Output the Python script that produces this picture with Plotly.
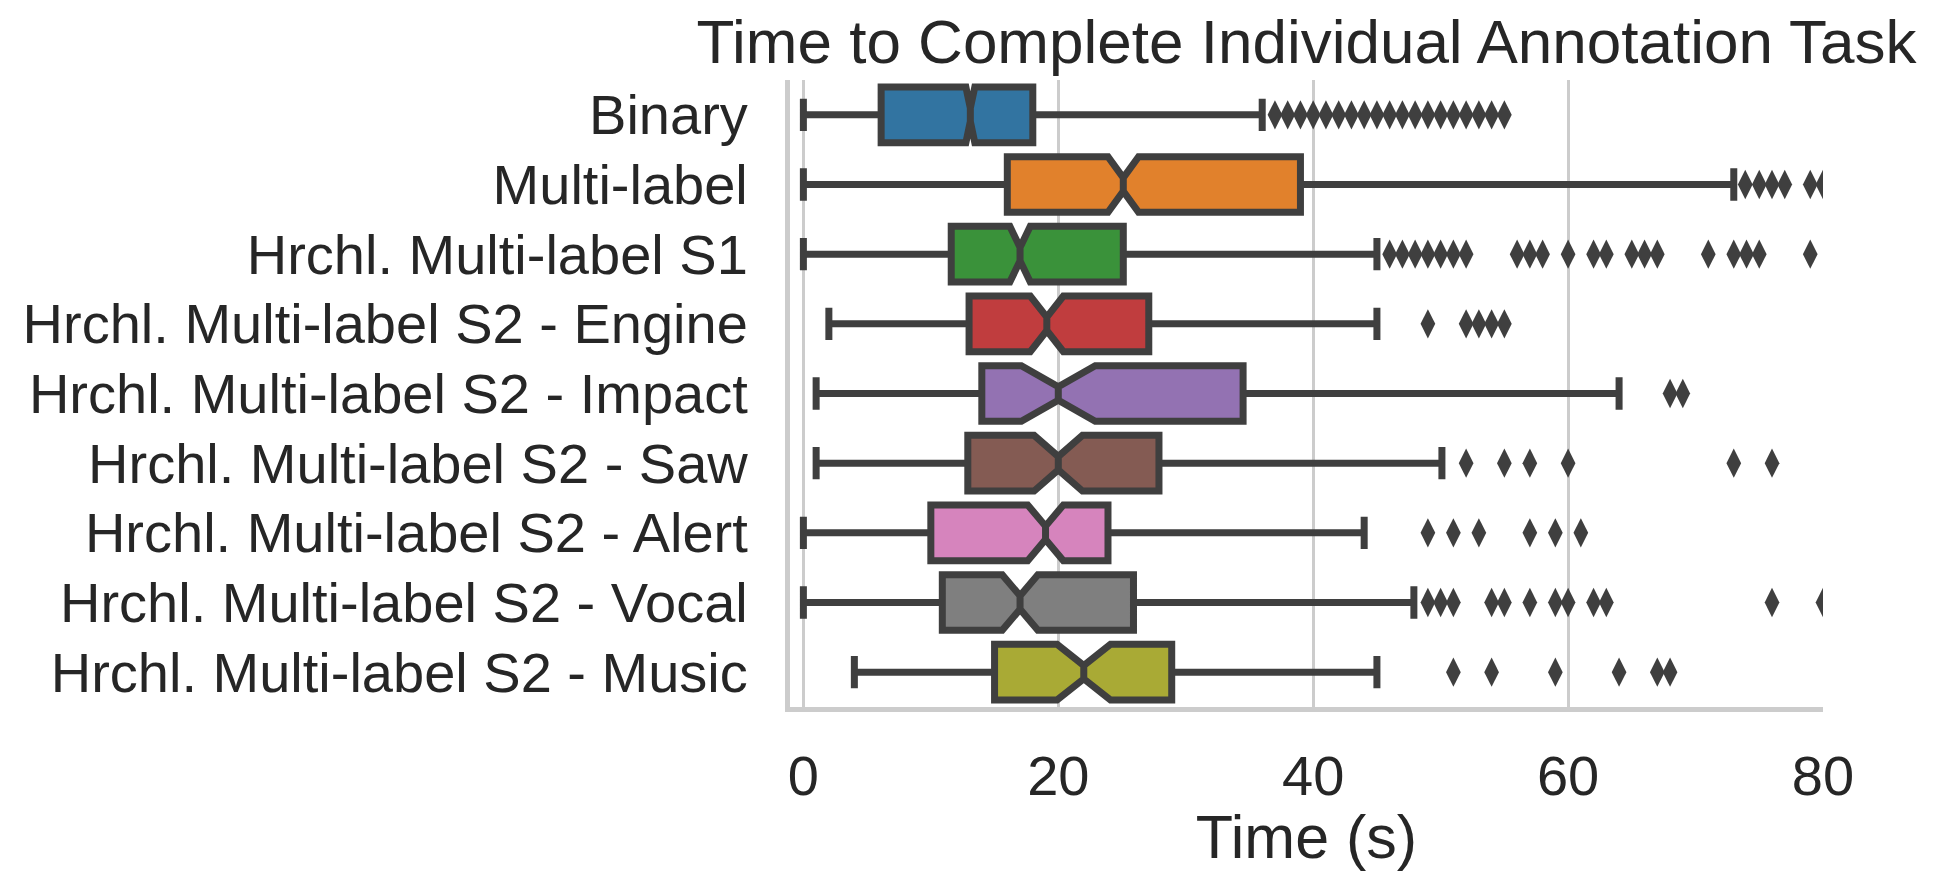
import plotly.graph_objects as go

categories = [
    "Binary",
    "Multi-label",
    "Hrchl. Multi-label S1",
    "Hrchl. Multi-label S2 - Engine",
    "Hrchl. Multi-label S2 - Impact",
    "Hrchl. Multi-label S2 - Saw",
    "Hrchl. Multi-label S2 - Alert",
    "Hrchl. Multi-label S2 - Vocal",
    "Hrchl. Multi-label S2 - Music",
]
colors = ["#3274a1", "#e1812c", "#3a923a", "#c03d3e", "#9372b2",
          "#845b53", "#d684bd", "#7f7f7f", "#a9aa35"]

q1 = [6.1, 16.0, 11.6, 13.0, 14.0, 12.9, 10.0, 10.9, 15.0]
medians = [13.1, 25.1, 17.0, 19.1, 20.0, 20.0, 19.0, 17.0, 22.0]
q3 = [18.0, 39.0, 25.1, 27.1, 34.5, 27.9, 23.9, 25.9, 28.9]
lower_whisker = [0.0, 0.0, 0.0, 2.0, 1.0, 1.0, 0.0, 0.0, 4.0]
upper_whisker = [36.0, 73.0, 45.0, 45.0, 64.0, 50.1, 44.0, 47.9, 45.0]
notch_half = [0.35, 1.2, 0.8, 1.3, 2.9, 1.9, 1.4, 1.4, 2.1]

outliers_binary = [37, 38, 39, 40, 41, 42, 43, 44, 45, 46, 47, 48, 49, 50, 51, 52, 53, 54, 55]
outliers_multi = [73.9, 75.0, 76.0, 77.0, 79.0, 80.0]
outliers_s1 = [46, 47, 48, 49, 50, 51, 52, 56, 57, 58, 60, 62, 63, 65, 66, 67, 71, 73, 74, 75, 79]
outliers_engine = [49, 52, 53, 54, 55]
outliers_impact = [68, 69]
outliers_saw = [52, 55, 57, 60, 73, 76]
outliers_alert = [49, 51, 53, 57, 59, 61]
outliers_vocal = [49, 50, 51, 54, 55, 57, 59, 60, 62, 63, 76, 80]
outliers_music = [51, 54, 59, 64, 67, 68]
outliers = [outliers_binary, outliers_multi, outliers_s1, outliers_engine, outliers_impact,
            outliers_saw, outliers_alert, outliers_vocal, outliers_music]

x_ticks = [0, 20, 40, 60, 80]

EDGE = "#3f3f3f"
TEXT = "#262626"
FONT = "Liberation Sans, Arial, sans-serif"

fig = go.Figure()
for i, cat in enumerate(categories):
    fig.add_trace(go.Box(
        y=[cat],
        q1=[q1[i]], median=[medians[i]], q3=[q3[i]],
        lowerfence=[lower_whisker[i]], upperfence=[upper_whisker[i]],
        notchspan=[notch_half[i]],
        notched=True, notchwidth=0.38,
        orientation="h",
        fillcolor=colors[i],
        line=dict(color=EDGE, width=7),
        width=0.8, whiskerwidth=0.58,
        boxpoints=False,
        showlegend=False,
    ))

ox, oy = [], []
for i, cat in enumerate(categories):
    for v in outliers[i]:
        ox.append(v)
        oy.append(cat)
fig.add_trace(go.Scatter(
    x=ox, y=oy, mode="markers",
    marker=dict(symbol="diamond-tall", size=21, color=EDGE, line=dict(width=0)),
    showlegend=False, cliponaxis=True,
))

fig.update_layout(
    width=1938, height=871,
    margin=dict(l=790, r=115, t=80, b=164),
    paper_bgcolor="white", plot_bgcolor="white",
    boxmode="overlay",
    font=dict(family=FONT, color=TEXT, size=56),
    title=dict(text="Time to Complete Individual Annotation Task",
               x=0.5, xref="paper", xanchor="center",
               y=1 - 41 / 871, yref="container", yanchor="middle",
               font=dict(size=62, color=TEXT, family=FONT)),
    xaxis=dict(
        range=[-1.05, 80], tickmode="array", tickvals=x_ticks,
        ticktext=[str(t) for t in x_ticks],
        showgrid=True, gridcolor="#cccccc", gridwidth=3,
        zeroline=False, showline=True, linecolor="#cccccc", linewidth=5,
        ticks="", ticklabelstandoff=16, automargin=False,
        tickfont=dict(size=56, color=TEXT, family=FONT),
        title=dict(text="Time (s)", font=dict(size=61, color=TEXT, family=FONT), standoff=10),
    ),
    yaxis=dict(
        type="category", categoryorder="array", categoryarray=categories,
        tickmode="array", tickvals=categories, ticktext=categories,
        range=[8.5, -0.5], automargin=False,
        showgrid=False, zeroline=False, showline=True, linecolor="#cccccc", linewidth=5,
        ticks="", ticklabelstandoff=26,
        tickfont=dict(size=56, color=TEXT, family=FONT),
    ),
)

fig.write_html("out.html")
